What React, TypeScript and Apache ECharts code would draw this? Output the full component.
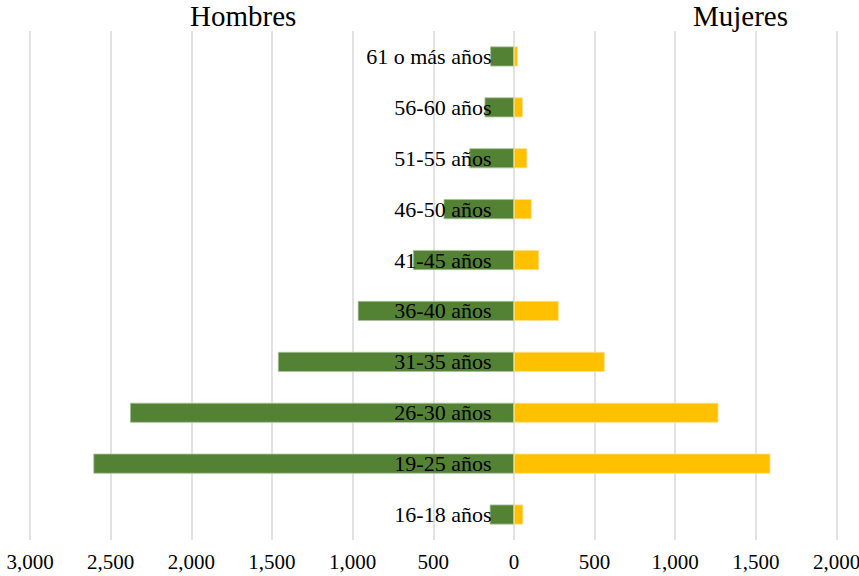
import React, { useEffect, useRef } from "react";
import * as echarts from "echarts";

const categories = [
  "16-18 años",
  "19-25 años",
  "26-30 años",
  "31-35 años",
  "36-40 años",
  "41-45 años",
  "46-50 años",
  "51-55 años",
  "56-60 años",
  "61 o más años",
];
const hombres = [150, 2607, 2380, 1463, 968, 626, 436, 276, 182, 147];
const mujeres = [58, 1590, 1268, 563, 278, 156, 110, 83, 56, 25];
const titles = ["Hombres", "Mujeres"];

const FONT = "'Liberation Serif', 'Times New Roman', serif";

export default function App() {
  const ref = useRef<HTMLDivElement>(null);
  useEffect(() => {
    if (!ref.current) return;
    const chart = echarts.init(ref.current, undefined, { renderer: "svg" });
    chart.setOption({
      animation: false,
      grid: {
        left: 30,
        right: 22.5,
        top: 31,
        bottom: 36,
        containLabel: false,
        outerBoundsMode: "none",
      },
      graphic: [
        {
          type: "text",
          left: 190,
          top: 1,
          style: { text: titles[0], font: `29px ${FONT}`, fill: "#000" },
        },
        {
          type: "text",
          left: 693,
          top: 1,
          style: { text: titles[1], font: `29px ${FONT}`, fill: "#000" },
        },
      ],
      xAxis: {
        type: "value",
        min: -3000,
        max: 2000,
        interval: 500,
        axisLine: { show: false },
        axisTick: { show: false },
        splitLine: { lineStyle: { color: "#d9d9d9", width: 1.5 } },
        axisLabel: {
          color: "#000",
          fontFamily: FONT,
          fontSize: 21,
          margin: 11,
          formatter: (v: number) => Math.abs(v).toLocaleString("en-US"),
        },
      },
      yAxis: {
        type: "category",
        data: categories,
        position: "left",
        offset: -483.5,
        z: 5,
        axisLine: { show: false, onZero: false },
        axisTick: { show: false },
        splitLine: { show: false },
        axisLabel: {
          color: "#000",
          fontFamily: FONT,
          fontSize: 22,
          margin: 22,
        },
      },
      series: [
        {
          name: titles[0],
          type: "bar",
          data: hombres.map((v) => -v),
          barWidth: 20,
          barGap: "-100%",
          itemStyle: { color: "#548235", borderColor: "#a9c19a", borderWidth: 0.8 },
        },
        {
          name: titles[1],
          type: "bar",
          data: mujeres,
          barWidth: 20,
          barGap: "-100%",
          itemStyle: { color: "#FFC000", borderColor: "#ffe08a", borderWidth: 0.8 },
        },
      ],
    });
    return () => chart.dispose();
  }, []);
  return (
    <div
      ref={ref}
      style={{ position: "fixed", left: 0, top: 0, width: 859, height: 576, background: "#fff" }}
    />
  );
}
